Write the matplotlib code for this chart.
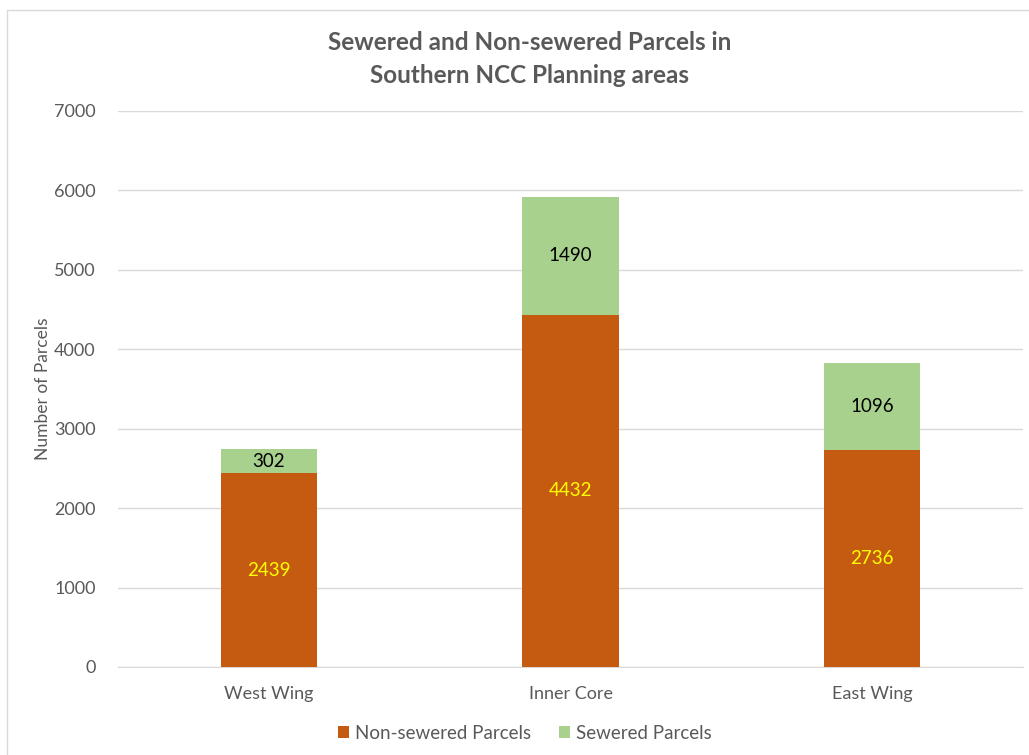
import matplotlib
matplotlib.use("Agg")
import matplotlib.pyplot as plt
from matplotlib.patches import Rectangle

categories = ["West Wing", "Inner Core", "East Wing"]
non_sewered = [2439, 4432, 2736]
sewered = [302, 1490, 1096]
yticks = [0, 1000, 2000, 3000, 4000, 5000, 6000, 7000]

plt.rcParams['font.family'] = ['Lato', 'DejaVu Sans']
grey = "#595959"
orange = "#C55A11"
green = "#A9D18E"

fig = plt.figure(figsize=(10.29, 7.55), dpi=100)
ax = fig.add_axes([0.1147, 0.1166, 0.8795, 0.7364])

x = list(range(len(categories)))
w = 0.32
b1 = ax.bar(x, non_sewered, width=w, color=orange, label="Non-sewered Parcels", zorder=3)
b2 = ax.bar(x, sewered, width=w, bottom=non_sewered, color=green, label="Sewered Parcels", zorder=3)

for i in x:
    ax.text(i, non_sewered[i] / 2, str(non_sewered[i]), ha="center", va="center",
            color="#FFFF00", fontsize=13.5, zorder=4)
    ax.text(i, non_sewered[i] + sewered[i] / 2, str(sewered[i]), ha="center", va="center",
            color="black", fontsize=13.5, zorder=4)

ax.set_xlim(-0.5, 2.5)
ax.set_ylim(0, 7000)
ax.set_yticks(yticks)
ax.set_yticklabels([str(t) for t in yticks])
ax.set_xticks(x)
ax.set_xticklabels(categories)
ax.grid(axis="y", color="#D9D9D9", linewidth=1, zorder=0)
for s in ["top", "right", "left"]:
    ax.spines[s].set_visible(False)
ax.spines["bottom"].set_color("#D9D9D9")
ax.tick_params(axis="both", length=0, colors=grey, labelsize=13)
ax.tick_params(axis="x", pad=14)
ax.tick_params(axis="y", pad=16)
ax.set_ylabel("Number of Parcels", color=grey, fontsize=12.5, labelpad=2)

fig.text(0.515, 0.944, "Sewered and Non-sewered Parcels in", ha="center", va="center",
         fontsize=17.5, fontweight="bold", color=grey)
fig.text(0.515, 0.900, "Southern NCC Planning areas", ha="center", va="center",
         fontsize=17.5, fontweight="bold", color=grey)

leg = fig.legend(handles=[b1, b2], loc="center", bbox_to_anchor=(0.51, 0.029), ncol=2,
                 frameon=False, fontsize=13.5, handlelength=0.6, handleheight=0.6,
                 handletextpad=0.3, columnspacing=1.5)
for t in leg.get_texts():
    t.set_color(grey)

fig.patches.append(Rectangle((0.007, -0.01), 1.1, 0.997, transform=fig.transFigure,
                             fill=False, edgecolor="#D9D9D9", linewidth=1))

fig.savefig("out.png", dpi=100)
